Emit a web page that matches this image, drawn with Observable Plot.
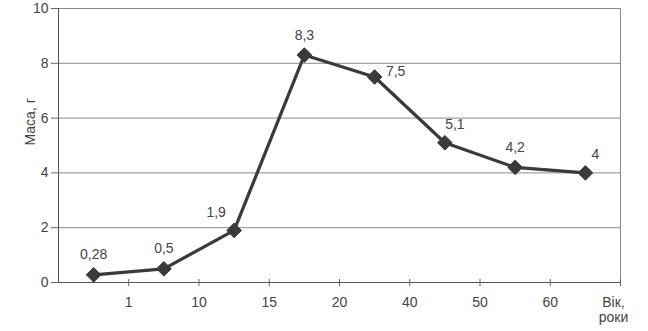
<!DOCTYPE html>
<html>
<head>
<meta charset="utf-8">
<script src="https://cdn.jsdelivr.net/npm/d3@7"></script>
<script src="https://cdn.jsdelivr.net/npm/@observablehq/plot@0.6"></script>
<style>
  html, body { margin: 0; padding: 0; background: #fff; }
  svg { display: block; }
</style>
</head>
<body>
<div id="chart"></div>
<script>
// Data
const massLabels = ["0,28", "0,5", "1,9", "8,3", "7,5", "5,1", "4,2", "4"];
const massValues = [0.28, 0.5, 1.9, 8.3, 7.5, 5.1, 4.2, 4];
const ageTickLabels = ["1", "10", "15", "20", "40", "50", "60"];
const yTicks = [0, 2, 4, 6, 8, 10];
const yTitle = "Маса, г";
const xTitle = "Вік,\nроки";

const data = massValues.map((v, i) => ({ i, pos: i + 0.5, value: v, label: massLabels[i] }));

// label placement per point
const place = ["top", "top", "topleft", "top", "right", "topright", "top", "topright"];
const offsets = {
  top: { dx: 0, dy: -20 },
  topleft: { dx: -18, dy: -18 },
  right: { dx: 21, dy: -5 },
  topright: { dx: 10, dy: -18 }
};

const font = "'Liberation Sans', Arial, sans-serif";
const ink = "#3a3a3a";

const labelMarks = Object.keys(offsets).map(k =>
  Plot.text(data.filter(d => place[d.i] === k), {
    x: "pos", y: "value", text: "label",
    dx: offsets[k].dx, dy: offsets[k].dy,
    fontSize: 14, fill: "#444"
  })
);

const chart = Plot.plot({
  width: 648,
  height: 331,
  marginLeft: 58,
  marginRight: 28,
  marginTop: 8,
  marginBottom: 49,
  style: { fontFamily: font, background: "#fff", color: "#444" },
  x: { domain: [0, massValues.length], axis: null },
  y: { domain: [0, 10], axis: null },
  marks: [
    Plot.gridY(yTicks.filter(t => t > 0), { stroke: "#8a8a8a", strokeOpacity: 1, strokeWidth: 1 }),
    Plot.ruleX([massValues.length], { stroke: "#8a8a8a", strokeWidth: 1 }),
    Plot.axisY({
      ticks: yTicks, tickSize: 7, tickPadding: 3, fontSize: 14, label: null,
      stroke: "#666", fill: "#444"
    }),
    Plot.axisX({
      ticks: d3.range(1, massValues.length + 1),
      tickFormat: t => ageTickLabels[t - 1] ?? "",
      tickSize: 4, tickPadding: 11, fontSize: 14, label: null,
      stroke: "#666", fill: "#444"
    }),
    Plot.axisX({
      anchor: "top", frameAnchor: "bottom",
      ticks: d3.range(1, massValues.length + 1),
      tickFormat: () => "", tickSize: 4, label: null, stroke: "#666"
    }),
    Plot.ruleX([0], { stroke: "#555", strokeWidth: 1 }),
    Plot.ruleY([0], { stroke: "#555", strokeWidth: 1 }),
    Plot.text([yTitle], { frameAnchor: "left", dx: -28, rotate: -90, fontSize: 14, fill: "#444" }),
    Plot.text([xTitle], {
      x: massValues.length, y: 0, text: d => d, dx: -7, dy: 14,
      lineAnchor: "top", lineHeight: 1.05, fontSize: 14, fill: "#444"
    }),
    Plot.line(data, { x: "pos", y: "value", stroke: ink, strokeWidth: 3.2 }),
    Plot.dot(data, { x: "pos", y: "value", symbol: "diamond2", r: 6.6, fill: ink, stroke: ink, strokeWidth: 1 }),
    ...labelMarks
  ]
});

document.getElementById("chart").appendChild(chart);
</script>
</body>
</html>
